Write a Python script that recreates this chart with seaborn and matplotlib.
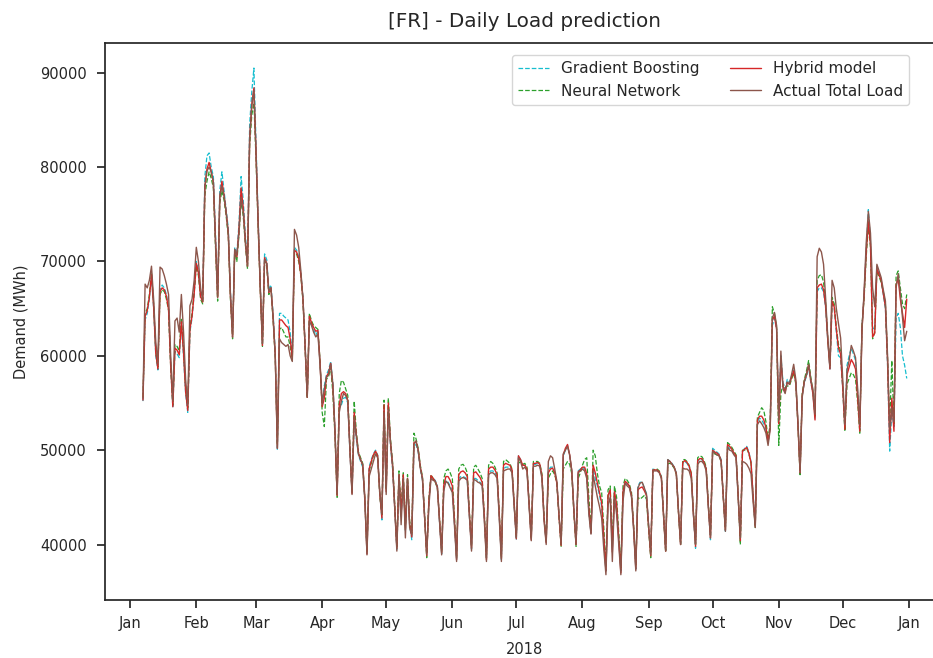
import matplotlib
matplotlib.use("Agg")
import numpy as np
import pandas as pd
import matplotlib.pyplot as plt
import matplotlib.dates as mdates
import seaborn as sns

# daily load, 2018-01-07 .. 2018-12-31, in hundreds of MWh (one line = Mon..Sun)
start_date = "2018-01-07"
end_date = "2018-12-31"

gradient_boosting = [
    552,
    638, 645, 660, 685, 650, 600, 585,
    670, 675, 672, 665, 650, 590, 545,
    605, 602, 598, 632, 600, 560, 540,
    625, 640, 665, 700, 690, 665, 660,
    790, 812, 815, 800, 790, 730, 668,
    775, 795, 775, 755, 735, 668, 625,
    715, 708, 740, 790, 765, 728, 698,
    845, 880, 905, 825, 745, 675, 612,
    708, 702, 670, 675, 645, 605, 500,
    645, 645, 642, 640, 638, 625, 600,
    715, 712, 705, 688, 662, 612, 558,
    640, 633, 628, 622, 626, 592, 550,
    568, 580, 585, 594, 572, 522, 455,
    545, 548, 555, 556, 550, 498, 455,
    530, 512, 495, 488, 482, 445, 390,
    482, 490, 496, 500, 495, 455, 426,
    545, 460, 548, 505, 480, 438, 395,
    470, 430, 472, 415, 468, 420, 405,
    502, 506, 498, 480, 468, 428, 390,
    445, 472, 470, 468, 462, 424, 390,
    460, 468, 466, 462, 457, 422, 384,
    470, 472, 472, 471, 468, 430, 395,
    470, 470, 468, 466, 463, 428, 385,
    476, 478, 478, 476, 472, 430, 384,
    480, 482, 482, 482, 478, 440, 405,
    494, 490, 484, 484, 480, 442, 406,
    485, 485, 486, 484, 472, 428, 402,
    478, 482, 482, 476, 465, 430, 400,
    494, 500, 505, 494, 478, 436, 402,
    478, 480, 482, 480, 472, 434, 412,
    480, 470, 462, 452, 440, 405, 372,
    452, 458, 395, 456, 442, 408, 372,
    455, 466, 464, 462, 452, 416, 374,
    462, 466, 466, 460, 454, 420, 390,
    480, 479, 479, 477, 472, 432, 394,
    490, 488, 486, 482, 476, 436, 401,
    486, 488, 486, 482, 474, 432, 396,
    488, 490, 490, 487, 480, 440, 405,
    502, 500, 498, 496, 490, 452, 414,
    504, 502, 500, 496, 493, 450, 405,
    498, 502, 504, 498, 488, 452, 420,
    530, 534, 532, 528, 522, 508, 525,
    632, 640, 628, 540, 600, 572, 565,
    575, 572, 578, 585, 572, 528, 478,
    558, 572, 578, 588, 572, 560, 534,
    668, 672, 672, 668, 650, 615, 586,
    655, 650, 625, 600, 598, 565, 522,
    590, 600, 608, 602, 595, 560, 522,
    630, 665, 712, 755, 722, 630, 628,
    695, 688, 680, 665, 650, 590, 499,
    540, 525, 640, 645, 630, 600, 590,
    576,
]

neural_network = [
    556,
    645, 650, 665, 688, 655, 605, 588,
    665, 670, 668, 660, 648, 588, 548,
    612, 610, 605, 640, 608, 565, 545,
    630, 645, 668, 695, 685, 660, 655,
    770, 785, 795, 788, 778, 715, 658,
    762, 775, 765, 748, 726, 660, 618,
    710, 700, 728, 765, 748, 718, 692,
    822, 855, 868, 808, 735, 668, 610,
    700, 695, 665, 670, 638, 598, 505,
    628, 630, 625, 620, 620, 610, 595,
    710, 708, 700, 685, 658, 608, 555,
    645, 637, 632, 630, 628, 595, 540,
    525, 575, 578, 588, 560, 515, 450,
    560, 574, 572, 565, 558, 505, 455,
    552, 520, 498, 492, 486, 448, 392,
    478, 486, 494, 498, 494, 452, 430,
    553, 458, 555, 512, 487, 442, 398,
    478, 438, 476, 420, 474, 425, 412,
    518, 512, 502, 484, 472, 432, 386,
    448, 474, 470, 466, 460, 428, 392,
    470, 478, 480, 476, 470, 430, 386,
    480, 484, 485, 482, 476, 435, 398,
    482, 484, 480, 476, 470, 432, 386,
    484, 488, 486, 482, 476, 434, 386,
    488, 490, 488, 486, 480, 444, 408,
    486, 488, 485, 486, 482, 444, 406,
    488, 488, 488, 486, 475, 430, 404,
    470, 475, 478, 474, 465, 430, 398,
    480, 484, 488, 485, 475, 432, 398,
    470, 476, 484, 490, 492, 450, 415,
    500, 494, 475, 462, 455, 418, 378,
    458, 462, 400, 462, 450, 412, 375,
    462, 470, 468, 464, 455, 420, 378,
    450, 448, 450, 452, 448, 416, 386,
    478, 480, 480, 478, 471, 431, 392,
    486, 486, 484, 481, 474, 434, 400,
    490, 490, 488, 484, 476, 435, 400,
    492, 494, 493, 489, 482, 443, 410,
    498, 496, 495, 494, 488, 450, 416,
    508, 506, 503, 499, 495, 452, 400,
    500, 500, 502, 496, 486, 450, 418,
    535, 540, 545, 542, 530, 512, 528,
    652, 645, 630, 505, 560, 570, 566,
    568, 568, 575, 582, 570, 526, 474,
    560, 575, 584, 595, 578, 562, 536,
    680, 685, 686, 678, 655, 618, 588,
    662, 655, 630, 612, 605, 568, 520,
    570, 576, 582, 580, 575, 550, 518,
    632, 660, 705, 738, 715, 618, 625,
    690, 684, 678, 668, 655, 598, 527,
    595, 528, 685, 690, 672, 655, 650,
    665,
]

hybrid_model = [
    553,
    642, 648, 662, 686, 652, 603, 586,
    668, 672, 670, 663, 649, 589, 546,
    608, 606, 601, 636, 604, 562, 542,
    628, 642, 666, 698, 688, 663, 657,
    778, 798, 805, 795, 784, 722, 662,
    768, 785, 770, 752, 730, 664, 620,
    712, 705, 734, 778, 757, 722, 695,
    830, 866, 884, 815, 740, 671, 611,
    704, 698, 667, 672, 641, 601, 502,
    638, 638, 635, 632, 630, 618, 597,
    712, 710, 703, 686, 660, 610, 556,
    642, 635, 630, 626, 627, 593, 546,
    555, 578, 582, 592, 568, 520, 452,
    548, 560, 562, 560, 553, 501, 454,
    540, 516, 497, 490, 484, 447, 390,
    480, 488, 495, 499, 494, 454, 428,
    548, 456, 550, 508, 483, 440, 396,
    474, 432, 474, 416, 470, 421, 408,
    508, 509, 500, 482, 470, 430, 388,
    446, 473, 470, 467, 461, 426, 391,
    463, 472, 472, 468, 462, 425, 384,
    474, 477, 478, 476, 472, 432, 396,
    476, 477, 474, 471, 466, 430, 384,
    480, 482, 482, 479, 474, 432, 385,
    484, 486, 485, 484, 479, 442, 406,
    494, 490, 484, 484, 480, 442, 405,
    486, 486, 487, 485, 473, 428, 402,
    476, 480, 481, 476, 465, 430, 399,
    495, 502, 506, 495, 478, 435, 400,
    477, 479, 482, 482, 475, 438, 412,
    484, 476, 465, 455, 444, 408, 372,
    452, 458, 392, 456, 442, 406, 370,
    456, 467, 465, 462, 452, 417, 374,
    458, 460, 461, 457, 452, 419, 388,
    479, 479, 479, 477, 471, 431, 393,
    489, 488, 485, 482, 475, 435, 400,
    487, 489, 487, 483, 475, 433, 398,
    489, 491, 491, 487, 480, 441, 407,
    500, 498, 497, 495, 489, 451, 415,
    506, 504, 501, 497, 494, 451, 404,
    499, 501, 503, 497, 487, 451, 419,
    532, 536, 536, 532, 524, 509, 524,
    638, 642, 628, 528, 595, 568, 562,
    572, 570, 577, 584, 572, 527, 476,
    558, 573, 580, 590, 574, 560, 532,
    672, 675, 676, 670, 652, 616, 586,
    658, 652, 628, 608, 602, 566, 522,
    580, 588, 596, 592, 586, 555, 520,
    628, 664, 710, 742, 718, 620, 624,
    692, 686, 680, 666, 652, 594, 508,
    555, 520, 675, 682, 660, 645, 630,
    660,
]

actual_load = [
    555,
    676, 672, 680, 695, 660, 615, 592,
    694, 692, 685, 676, 665, 600, 552,
    637, 640, 625, 665, 626, 575, 548,
    653, 660, 680, 715, 700, 672, 658,
    780, 796, 800, 795, 784, 720, 662,
    768, 780, 770, 752, 730, 665, 620,
    713, 706, 730, 768, 752, 720, 695,
    830, 865, 881, 815, 740, 672, 613,
    702, 698, 668, 672, 640, 600, 502,
    618, 614, 612, 610, 612, 600, 594,
    734, 728, 715, 690, 660, 610, 556,
    637, 632, 625, 620, 623, 590, 548,
    565, 577, 580, 591, 570, 520, 453,
    540, 552, 560, 558, 552, 500, 453,
    535, 515, 496, 490, 485, 450, 389,
    472, 480, 488, 496, 492, 455, 432,
    540, 453, 543, 510, 485, 440, 393,
    474, 421, 470, 407, 470, 418, 410,
    506, 510, 500, 481, 470, 430, 389,
    440, 470, 468, 467, 460, 425, 389,
    457, 467, 465, 460, 455, 420, 382,
    467, 470, 471, 470, 468, 430, 393,
    469, 468, 466, 465, 462, 425, 382,
    474, 476, 476, 474, 470, 428, 382,
    478, 479, 480, 480, 476, 440, 407,
    492, 488, 480, 482, 478, 440, 404,
    483, 483, 484, 483, 470, 425, 400,
    488, 494, 492, 480, 467, 432, 400,
    496, 500, 504, 495, 478, 435, 400,
    476, 478, 480, 478, 470, 432, 411,
    474, 462, 450, 440, 428, 395, 368,
    442, 450, 382, 450, 432, 400, 368,
    446, 465, 462, 460, 450, 415, 372,
    460, 465, 466, 460, 453, 420, 389,
    478, 478, 478, 476, 470, 430, 393,
    490, 488, 485, 482, 475, 435, 400,
    481, 480, 480, 478, 470, 432, 400,
    485, 488, 488, 485, 478, 440, 407,
    499, 497, 495, 494, 488, 450, 414,
    503, 500, 499, 495, 492, 450, 407,
    488, 487, 485, 481, 475, 445, 418,
    527, 531, 528, 524, 518, 505, 522,
    640, 646, 632, 531, 605, 565, 560,
    572, 570, 580, 591, 575, 530, 476,
    556, 573, 580, 591, 575, 565, 538,
    705, 714, 710, 697, 660, 619, 588,
    680, 672, 650, 634, 619, 575, 527,
    585, 595, 611, 605, 598, 565, 527,
    626, 668, 720, 753, 730, 672, 652,
    697, 690, 683, 670, 658, 600, 522,
    545, 530, 672, 687, 665, 641, 616,
    626,
]

series_names = ["Gradient Boosting", "Neural Network", "Hybrid model", "Actual Total Load"]

dates = pd.date_range(start_date, end_date, freq="D")
df = pd.DataFrame({
    "date": dates,
    "Gradient Boosting": np.array(gradient_boosting) * 100,
    "Neural Network": np.array(neural_network) * 100,
    "Hybrid model": np.array(hybrid_model) * 100,
    "Actual Total Load": np.array(actual_load) * 100,
})

sns.set_theme(style="ticks")
plt.rcParams["font.family"] = ["DejaVu Sans"]
plt.rcParams["xtick.labelsize"] = 10.5
plt.rcParams["ytick.labelsize"] = 10.5
plt.rcParams["axes.labelsize"] = 10.5

styles = {
    "Gradient Boosting": ("#17becf", "--", 0.9),
    "Neural Network": ("#2ca02c", "--", 0.9),
    "Hybrid model": ("#d62728", "-", 1.0),
    "Actual Total Load": ("#8c564b", "-", 1.0),
}

fig = plt.figure(figsize=(9.33, 6.58), dpi=100)
# right spine sits just past the figure edge, as in the reference crop
ax = fig.add_axes([0.1123, 0.0881, 0.9005, 0.847])
ax.spines["right"].set_visible(False)

for name in series_names:
    color, ls, lw = styles[name]
    sns.lineplot(data=df, x="date", y=name, ax=ax, color=color,
                 linestyle=ls, linewidth=lw, label=name)

ax.xaxis.set_major_locator(mdates.MonthLocator())
ax.xaxis.set_major_formatter(mdates.DateFormatter("%b"))
ax.tick_params(axis="x", pad=5.5)
ax.tick_params(axis="y", pad=7)

ax.set_xlabel("2018", labelpad=8)
ax.set_ylabel("Demand (MWh)", labelpad=8)
ax.set_title("[FR] - Daily Load prediction", fontsize=14.4, pad=11)

ax.legend(ncol=2, loc="upper right", fontsize=11,
          bbox_to_anchor=(909 / 933, 1 - 55 / 658),
          bbox_transform=fig.transFigure, borderaxespad=0)

fig.savefig("out.png", dpi=100)
plt.close(fig)
print("Chart saved to: out.png")
